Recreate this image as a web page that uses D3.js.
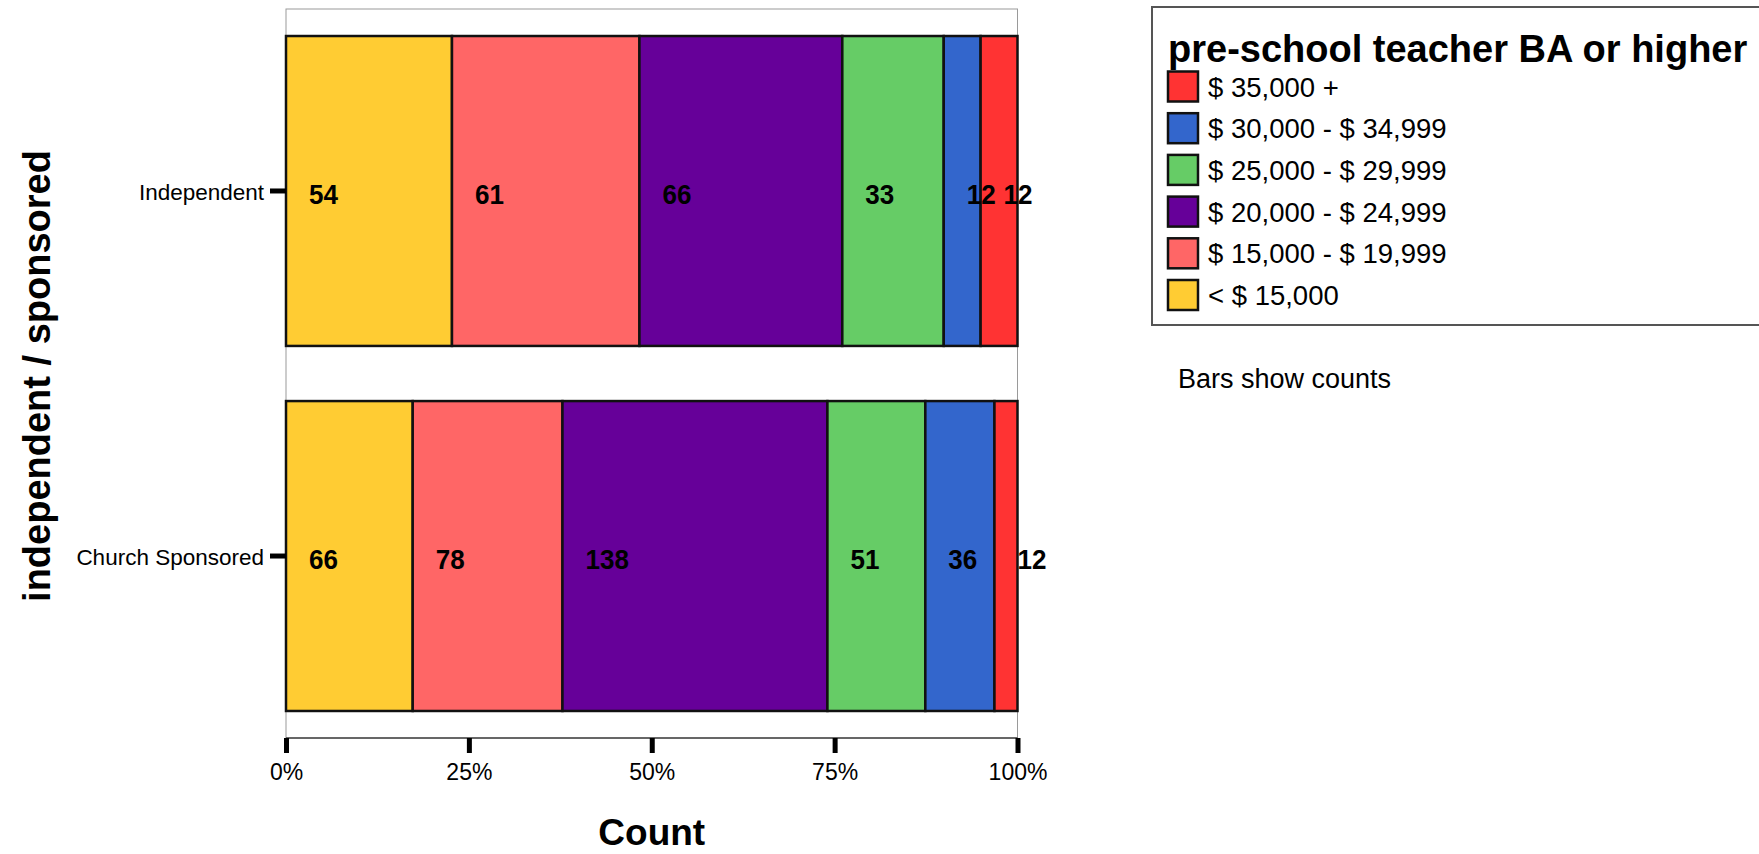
<!DOCTYPE html>
<html>
<head>
<meta charset="utf-8">
<script src="https://cdn.jsdelivr.net/npm/d3@7"></script>
<style>
  html, body { margin: 0; padding: 0; background: #fff; }
  svg { display: block; font-family: "Liberation Sans", Arial, sans-serif; }
</style>
</head>
<body>
<svg id="chart" width="1759" height="854"></svg>
<script>
// ---- data ----
const categories = ["Independent", "Church Sponsored"];
const seriesNames = ["< $ 15,000", "$ 15,000 - $ 19,999", "$ 20,000 - $ 24,999", "$ 25,000 - $ 29,999", "$ 30,000 - $ 34,999", "$ 35,000 +"];
const seriesColors = ["#FFCC33", "#FF6666", "#660099", "#66CC66", "#3366CC", "#FF3333"];
const independentCounts = [54, 61, 66, 33, 12, 12];
const churchCounts = [66, 78, 138, 51, 36, 12];
const xTickValues = [0, 0.25, 0.5, 0.75, 1];
const legendTitle = "pre-school teacher BA or higher";
const yAxisTitle = "independent / sponsored";
const xAxisTitle = "Count";
const noteText = "Bars show counts";

const countsByCategory = [independentCounts, churchCounts];

// ---- layout ----
const svg = d3.select("#chart");
const plot = { left: 286, right: 1017.5, top: 9, bottom: 738 };

const x = d3.scaleLinear().domain([0, 1]).range([plot.left, plot.right]);
const y = d3.scaleBand().domain(categories).range([plot.top, plot.bottom])
  .paddingInner(0.151).paddingOuter(0.074);

// build stacked proportion data
const rows = categories.map((c, i) => {
  const counts = countsByCategory[i];
  const total = d3.sum(counts);
  let cum = 0;
  return counts.map((v, j) => {
    const seg = { cat: c, series: j, value: v, x0: cum / total, x1: (cum + v) / total };
    cum += v;
    return seg;
  });
});

// frame
const g = svg.append("g");
g.append("rect")
  .attr("x", plot.left).attr("y", plot.top)
  .attr("width", plot.right - plot.left).attr("height", plot.bottom - plot.top)
  .attr("fill", "none").attr("stroke", "#9a9a9a").attr("stroke-width", 1);

// bars
rows.forEach(segs => {
  g.selectAll(null).data(segs).enter().append("rect")
    .attr("x", d => x(d.x0))
    .attr("y", d => y(d.cat))
    .attr("width", d => x(d.x1) - x(d.x0))
    .attr("height", y.bandwidth())
    .attr("fill", d => seriesColors[d.series])
    .attr("stroke", "#111")
    .attr("stroke-width", 2.5);
});

// value labels
rows.forEach(segs => {
  g.selectAll(null).data(segs).enter().append("text")
    .attr("transform", d => `translate(${x(d.x0) + 23},${y(d.cat) + y.bandwidth() / 2 + 13}) scale(0.93,1)`)
    .attr("font-size", 28).attr("font-weight", "bold").attr("fill", "#000")
    .text(d => d.value);
});

// x axis line
g.append("line")
  .attr("x1", plot.left).attr("x2", plot.right)
  .attr("y1", plot.bottom).attr("y2", plot.bottom)
  .attr("stroke", "#444").attr("stroke-width", 1.5);

// x axis
const xAxis = d3.axisBottom(x).tickValues(xTickValues).tickFormat(d3.format(".0%"))
  .tickSize(15).tickPadding(11);
const xg = svg.append("g").attr("transform", `translate(0,${plot.bottom})`).call(xAxis);
xg.select(".domain").remove();
xg.selectAll(".tick line").attr("stroke", "#000").attr("stroke-width", 5);
xg.selectAll(".tick text").attr("font-size", 23).attr("fill", "#000")
  .attr("font-family", "Liberation Sans, Arial, sans-serif");

// y axis
const yAxis = d3.axisLeft(y).tickSize(16).tickPadding(6);
const yg = svg.append("g").attr("transform", `translate(${plot.left},0)`).call(yAxis);
yg.select(".domain").remove();
yg.selectAll(".tick line").attr("stroke", "#000").attr("stroke-width", 5);
yg.selectAll(".tick text").attr("font-size", 22.5).attr("fill", "#000")
  .attr("dy", "0.4em")
  .attr("font-family", "Liberation Sans, Arial, sans-serif");

// axis titles
svg.append("text")
  .attr("x", (plot.left + plot.right) / 2).attr("y", 845)
  .attr("text-anchor", "middle").attr("font-size", 37).attr("font-weight", "bold")
  .text(xAxisTitle);
svg.append("text")
  .attr("transform", "translate(50,376) rotate(-90)")
  .attr("text-anchor", "middle").attr("font-size", 38).attr("font-weight", "bold")
  .text(yAxisTitle);

// legend
const lg = svg.append("g");
lg.append("rect")
  .attr("x", 1152).attr("y", 7).attr("width", 700).attr("height", 318)
  .attr("fill", "#fff").attr("stroke", "#555").attr("stroke-width", 2);
lg.append("text").attr("x", 1168).attr("y", 62)
  .attr("font-size", 38).attr("font-weight", "bold").text(legendTitle);
const legendOrder = d3.range(seriesNames.length).reverse();
const ly = d3.scalePoint().domain(legendOrder).range([86.5, 295]);
const items = lg.selectAll(".item").data(legendOrder).enter().append("g")
  .attr("transform", d => `translate(0,${ly(d)})`);
items.append("rect")
  .attr("x", 1168).attr("y", -15).attr("width", 30).attr("height", 30)
  .attr("fill", d => seriesColors[d]).attr("stroke", "#111").attr("stroke-width", 2.5);
items.append("text")
  .attr("x", 1208).attr("y", 10).attr("font-size", 27.5).attr("fill", "#000")
  .text(d => seriesNames[d]);

svg.append("text").attr("x", 1178).attr("y", 388)
  .attr("font-size", 27).attr("fill", "#000").text(noteText);
</script>
</body>
</html>
